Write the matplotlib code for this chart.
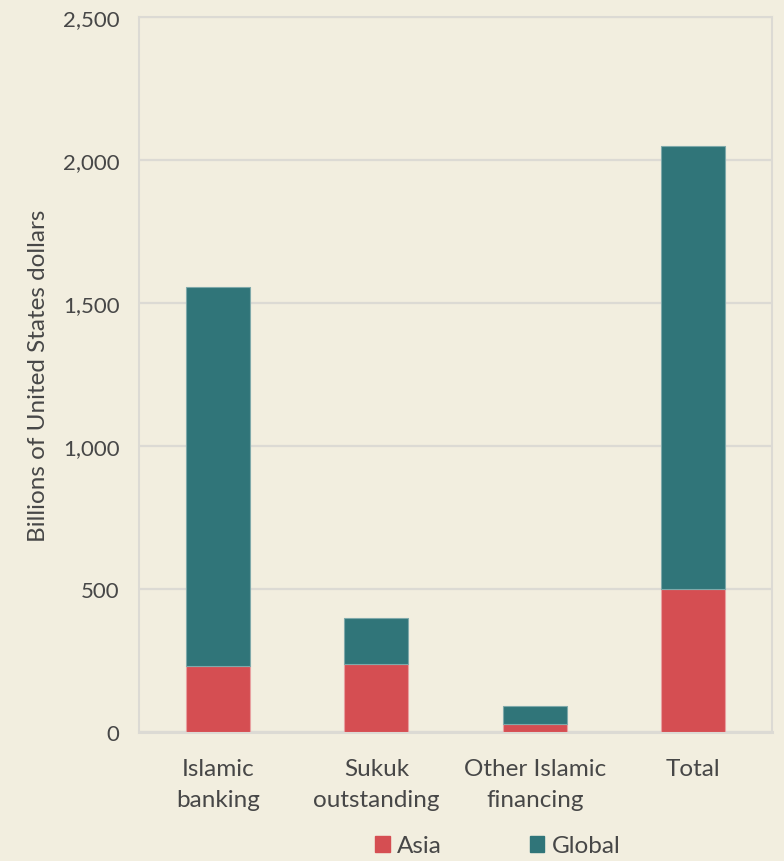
import matplotlib.pyplot as plt
from matplotlib.patches import Patch

# datos (miles de millones de USD)
categorias = ['Islamic\nbanking', 'Sukuk\noutstanding', 'Other Islamic\nfinancing', 'Total']
asia = [231, 238, 28, 500]
global_total = [1556, 399, 92, 2049]
y_ticks = [0, 500, 1000, 1500, 2000, 2500]
y_labels = ['0', '500', '1,000', '1,500', '2,000', '2,500']

rojo = '#D54E52'
verde = '#307579'
fondo = '#F2EEDF'
texto = '#474747'
gris = '#DCDAD4'

plt.rcParams['font.family'] = ['Lato', 'DejaVu Sans']

fig = plt.figure(figsize=(7.84, 8.62), dpi=100, facecolor=fondo)
ax = fig.add_axes([0.1773, 0.1497, 0.8074, 0.8294], facecolor=fondo)

x = list(range(len(categorias)))
resto = [g - a for g, a in zip(global_total, asia)]
ax.bar(x, asia, width=0.405, color=rojo, edgecolor='#E8A0A0', linewidth=0.8, zorder=3)
ax.bar(x, resto, width=0.405, bottom=asia, color=verde, edgecolor='#7FA9AA', linewidth=0.8, zorder=3)

ax.set_xlim(-0.5, 3.5)
ax.set_ylim(0, 2500)
ax.set_yticks(y_ticks)
ax.set_yticklabels(y_labels)
ax.set_xticks(x)
ax.set_xticklabels(categorias, linespacing=1.55)
ax.tick_params(axis='y', length=0, pad=14, labelsize=16, labelcolor=texto)
ax.tick_params(axis='x', length=0, pad=19, labelsize=17.5, labelcolor=texto)
ax.grid(axis='y', color=gris, linewidth=1.6, zorder=0)
ax.set_axisbelow(True)
for s in ax.spines.values():
    s.set_color(gris)
    s.set_linewidth(1.5)
ax.spines['bottom'].set_linewidth(2.2)

ax.set_ylabel('Billions of United States dollars', fontsize=17.5, color=texto, labelpad=10)

handles = [Patch(color=rojo, label='Asia'), Patch(color=verde, label='Global')]
fig.legend(handles=handles, loc='lower center', bbox_to_anchor=(0.635, -0.02), ncol=2,
           frameon=False, fontsize=17.5, labelcolor=texto, handlelength=0.6, handleheight=0.6,
           handletextpad=0.3, columnspacing=3.6)

fig.savefig('out.png', dpi=100, facecolor=fondo)
